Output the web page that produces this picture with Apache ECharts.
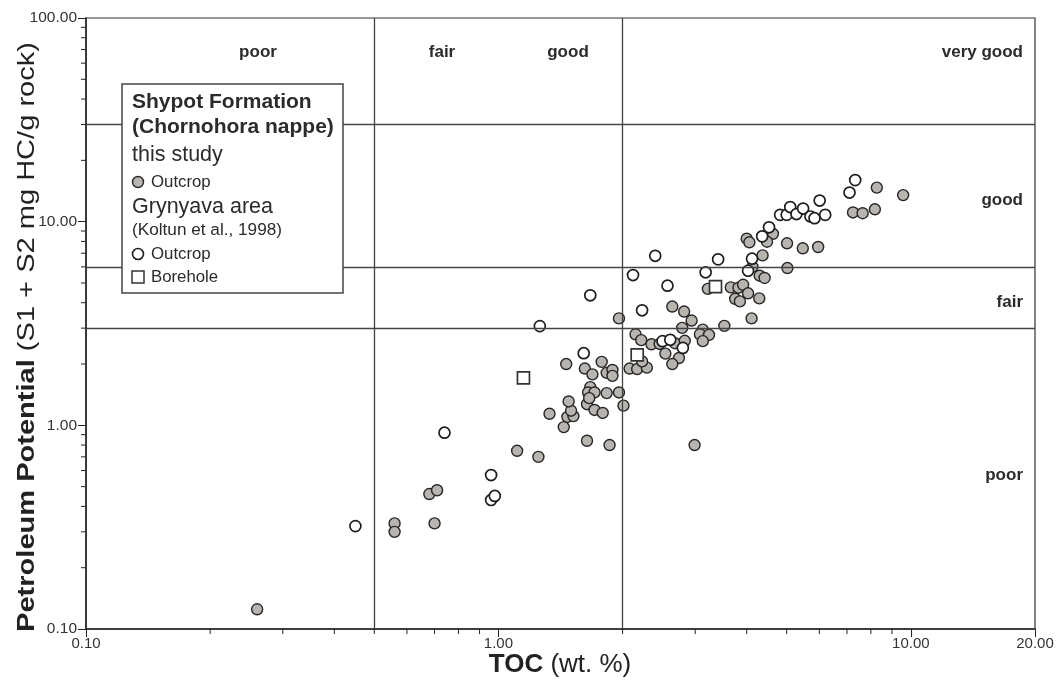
<!DOCTYPE html>
<html>
<head>
<meta charset="utf-8">
<script src="https://cdn.jsdelivr.net/npm/echarts@6/dist/echarts.min.js"></script>
<style>
html, body { margin: 0; padding: 0; background: #fff; }
#main { width: 1062px; height: 682px; }
</style>
</head>
<body>
<div id="main"></div>
<script>
// this study, outcrop samples [TOC, S1+S2]
var grayOutcrop = [
    [0.26, 0.125], [0.56, 0.33], [0.56, 0.30], [0.70, 0.33], [0.68, 0.46], [0.71, 0.48],
    [1.11, 0.75], [1.25, 0.70], [1.33, 1.14], [1.46, 2.00], [1.44, 0.98], [1.47, 1.10],
    [1.52, 1.11], [1.50, 1.18], [1.48, 1.31], [1.64, 0.84], [1.86, 0.80], [1.64, 1.27],
    [1.71, 1.19], [1.79, 1.15], [1.67, 1.54], [1.65, 1.45], [1.71, 1.45], [1.66, 1.36],
    [1.83, 1.44], [1.96, 1.45], [2.01, 1.25], [1.62, 1.90], [1.69, 1.78], [1.78, 2.05],
    [1.83, 1.81], [1.89, 1.87], [1.89, 1.75], [1.96, 3.35], [2.08, 1.90], [2.17, 1.89],
    [2.29, 1.92], [2.23, 2.06], [2.15, 2.80], [2.22, 2.62], [2.35, 2.50], [2.46, 2.51],
    [2.54, 2.25], [2.74, 2.14], [2.64, 2.00], [2.68, 2.53], [2.83, 2.60], [2.99, 0.80],
    [2.64, 3.83], [2.82, 3.62], [2.94, 3.27], [2.79, 3.01], [3.13, 2.95], [3.08, 2.80],
    [3.24, 2.78], [3.13, 2.59], [3.53, 3.08], [3.22, 4.68], [3.66, 4.76], [3.82, 4.74],
    [3.92, 4.90], [3.75, 4.18], [3.85, 4.06], [4.03, 4.45], [4.29, 4.20], [4.11, 3.35],
    [4.13, 6.00], [4.30, 5.43], [4.42, 5.29], [4.37, 6.83], [5.02, 5.92], [4.00, 8.25],
    [4.06, 7.92], [4.63, 8.72], [4.48, 7.97], [5.01, 7.83], [5.47, 7.40], [5.96, 7.51],
    [7.24, 11.1], [7.64, 11.0], [8.18, 11.5], [8.27, 14.7], [9.58, 13.5]
];
// Grynyava area (Koltun et al., 1998), outcrop
var openOutcrop = [
    [0.45, 0.32], [0.74, 0.92], [0.96, 0.57], [0.96, 0.43], [0.98, 0.45], [1.26, 3.07],
    [1.61, 2.26], [1.67, 4.35], [2.12, 5.47], [2.40, 6.80], [2.23, 3.67], [2.57, 4.85],
    [2.50, 2.59], [2.61, 2.63], [2.80, 2.40], [3.18, 5.64], [3.41, 6.53], [4.03, 5.74],
    [4.12, 6.58], [4.36, 8.47], [4.53, 9.38], [4.82, 10.8], [5.00, 10.8], [5.10, 11.8],
    [5.28, 10.9], [5.48, 11.6], [5.71, 10.6], [5.84, 10.4], [6.20, 10.8], [6.01, 12.7],
    [7.10, 13.9], [7.33, 16.0]
];
// Grynyava area, borehole
var borehole = [[1.15, 1.71], [2.17, 2.22], [3.36, 4.80]];

// class boundaries
var tocLimits = [0.5, 2];
var potentialLimits = [3, 6, 30];

// minor ticks of the log axes
var xMinorTicks = [0.2, 0.3, 0.4, 0.5, 0.6, 0.7, 0.8, 0.9, 2, 3, 4, 5, 6, 7, 8, 9];
var yMinorTicks = [0.2, 0.3, 0.4, 0.5, 0.6, 0.7, 0.8, 0.9, 2, 3, 4, 5, 6, 7, 8, 9, 20, 30, 40, 50, 60, 70, 80, 90];

var FONT = "'Liberation Sans', Arial, sans-serif";
var myChart = echarts.init(document.getElementById("main"));

var limitLines = [];
tocLimits.forEach(function (v) { limitLines.push({ xAxis: v }); });
potentialLimits.forEach(function (v) { limitLines.push({ yAxis: v }); });

function tickSeries(values, onX) {
    return {
        type: "custom",
        silent: true,
        z: 6,
        clip: false,
        data: values.map(function (v) { return onX ? [v, 0.1] : [0.1, v]; }),
        renderItem: function (params, api) {
            var p = api.coord([api.value(0), api.value(1)]);
            var shape = onX
                ? { x1: p[0], y1: p[1], x2: p[0], y2: p[1] + 5 }
                : { x1: p[0], y1: p[1], x2: p[0] - 5, y2: p[1] };
            return { type: "line", shape: shape, style: { stroke: "#222", lineWidth: 1 } };
        }
    };
}

function label(text, x, y, align) {
    return {
        type: "text", x: x, y: y, z: 20,
        style: { text: text, fontSize: 17, fontWeight: "bold", fontFamily: FONT, fill: "#2b2b2b",
                 align: align || "center", verticalAlign: "middle" }
    };
}

function legendText(text, x, y, size, bold) {
    return {
        type: "text", x: x, y: y, z: 31,
        style: { text: text, fontSize: size, fontWeight: bold ? "bold" : "normal", fontFamily: FONT,
                 fill: "#2b2b2b", align: "left", verticalAlign: "middle" }
    };
}

var option = {
    animation: false,
    backgroundColor: "#fff",
    grid: { left: 86, right: 27, top: 18, bottom: 53, show: true, borderColor: "#333", borderWidth: 1.2 },
    xAxis: {
        type: "log", logBase: 10, min: 0.1, max: 20,
        axisLine: { lineStyle: { color: "#222", width: 1.5 } },
        axisTick: { show: true, length: 8, lineStyle: { color: "#222" } },
        axisLabel: { fontSize: 15, color: "#333", fontFamily: FONT, margin: 7,
                     formatter: function (v) { return v.toFixed(2); } },
        splitLine: { show: false }
    },
    yAxis: {
        type: "log", logBase: 10, min: 0.1, max: 100,
        axisLine: { lineStyle: { color: "#222", width: 1.5 } },
        axisTick: { show: true, length: 8, lineStyle: { color: "#222" } },
        axisLabel: { fontSize: 15.5, color: "#333", fontFamily: FONT, margin: 9,
                     formatter: function (v) { return v.toFixed(2); } },
        splitLine: { show: false }
    },
    series: [
        {
            type: "scatter", data: [], z: 1, silent: true,
            markLine: {
                silent: true, symbol: "none", label: { show: false },
                lineStyle: { color: "#444", width: 1.3, type: "solid" },
                data: limitLines
            }
        },
        {
            name: "this study outcrop", type: "scatter", z: 3, data: grayOutcrop,
            symbol: "circle", symbolSize: 11,
            itemStyle: { color: "#b8b4b0", borderColor: "#262626", borderWidth: 1.4, opacity: 1 }
        },
        {
            name: "Grynyava outcrop", type: "scatter", z: 4, data: openOutcrop,
            symbol: "circle", symbolSize: 11,
            itemStyle: { color: "#fff", borderColor: "#1e1e1e", borderWidth: 1.7, opacity: 1 }
        },
        {
            name: "Grynyava borehole", type: "scatter", z: 5, data: borehole,
            symbol: "rect", symbolSize: 12,
            itemStyle: { color: "#fff", borderColor: "#333", borderWidth: 1.7, opacity: 1 }
        },
        tickSeries(xMinorTicks, true),
        tickSeries(yMinorTicks, false)
    ],
    graphic: [
        // axis titles
        {
            type: "text", x: 27, y: 337, rotation: Math.PI / 2, scaleX: 1.21, z: 20,
            style: {
                text: "{b|Petroleum Potential} (S1 + S2 mg HC/g rock)",
                fontSize: 24, fontFamily: FONT, fill: "#222", align: "center", verticalAlign: "middle",
                rich: { b: { fontSize: 24, fontWeight: "bold", fontFamily: FONT, fill: "#222" } }
            }
        },
        {
            type: "text", x: 560, y: 665, z: 20,
            style: {
                text: "{b|TOC} (wt. %)",
                fontSize: 26, fontFamily: FONT, fill: "#222", align: "center", verticalAlign: "middle",
                rich: { b: { fontSize: 26, fontWeight: "bold", fontFamily: FONT, fill: "#222" } }
            }
        },
        // class labels
        label("poor", 258, 52),
        label("fair", 442, 52),
        label("good", 568, 52),
        label("very good", 1023, 52, "right"),
        label("good", 1023, 200, "right"),
        label("fair", 1023, 302, "right"),
        label("poor", 1023, 475, "right"),
        // legend box
        {
            type: "rect", z: 30,
            shape: { x: 122, y: 84, width: 221, height: 209 },
            style: { fill: "#fff", stroke: "#444", lineWidth: 1.5 }
        },
        legendText("Shypot Formation", 132, 102, 21, true),
        legendText("(Chornohora nappe)", 132, 127, 21, true),
        legendText("this study", 132, 155, 21.5, false),
        {
            type: "circle", z: 31, shape: { cx: 138, cy: 182, r: 5.5 },
            style: { fill: "#b8b4b0", stroke: "#262626", lineWidth: 1.4 }
        },
        legendText("Outcrop", 151, 182, 16.8, false),
        legendText("Grynyava area", 132, 207, 21.5, false),
        legendText("(Koltun et al., 1998)", 132, 230, 17.2, false),
        {
            type: "circle", z: 31, shape: { cx: 138, cy: 254, r: 5.5 },
            style: { fill: "#fff", stroke: "#1e1e1e", lineWidth: 1.6 }
        },
        legendText("Outcrop", 151, 254, 16.8, false),
        {
            type: "rect", z: 31, shape: { x: 132, y: 271, width: 12, height: 12 },
            style: { fill: "#fff", stroke: "#333", lineWidth: 1.5 }
        },
        legendText("Borehole", 151, 277, 16.8, false)
    ]
};

myChart.setOption(option);
</script>
</body>
</html>
